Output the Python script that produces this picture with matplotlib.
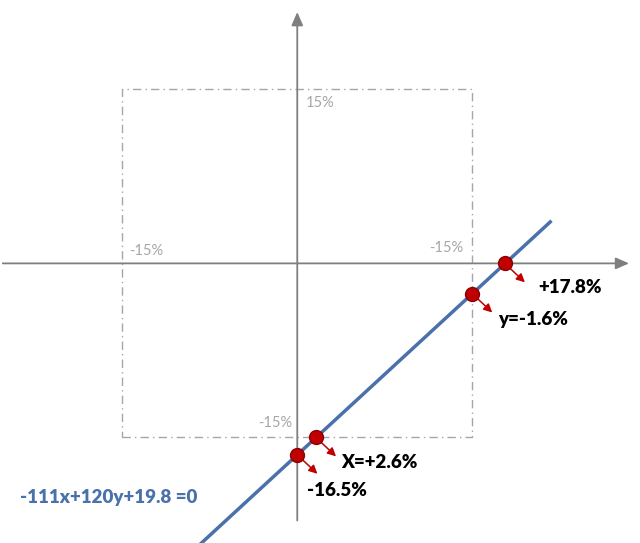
import numpy as np
from matplotlib import pyplot as plt

# line: a*x + b*y + c = 0 (x, y as fractions; plotted in %)
coef_a, coef_b, coef_c = -111, 120, 19.8
box_half = 15
line_x = [-8.6, 21.7]

pt_x = [17.8, 15.0, 1.6, 0.0]
pt_y = [0.0, -2.6, -15.0, -16.5]
pt_labels = ["+17.8%", "y=-1.6%", "X=+2.6%", "-16.5%"]
label_offsets = [(2.9, -2.1), (2.25, -2.2), (2.2, -2.15), (0.86, -3.1)]

box_labels = ["15%", "-15%", "-15%", "-15%"]
box_label_pos = [(0.7, 13.8), (-14.4, 1.1), (11.3, 1.3), (-3.4, -13.8)]

blue = "#4a71ab"
red = "#c00000"
gray = "#7f7f7f"

plt.rcParams["font.family"] = ["Lato", "DejaVu Sans"]

fig = plt.figure(figsize=(6.4, 5.43), dpi=100)
ax = fig.add_axes([0, 0, 1, 1])
ax.set_xlim(-25.5, 29.4)
ax.set_ylim(-24.1, 22.7)
ax.axis("off")

# coordinate axes with arrow heads
ax.annotate("", xy=(28.7, 0), xytext=(-25.5, 0),
            arrowprops=dict(arrowstyle="-|>,head_length=0.8,head_width=0.35",
                            color=gray, lw=1.3))
ax.annotate("", xy=(0, 21.9), xytext=(0, -22.4),
            arrowprops=dict(arrowstyle="-|>,head_length=0.8,head_width=0.35",
                            color=gray, lw=1.3))

# dash-dot box
bx = [-box_half, box_half, box_half, -box_half, -box_half]
by = [-box_half, -box_half, box_half, box_half, -box_half]
ax.plot(bx, by, color="#a6a6a6", lw=1, linestyle=(0, (6, 3, 1, 3)))
for txt, (tx, ty) in zip(box_labels, box_label_pos):
    ax.text(tx, ty, txt, color="#a6a6a6", fontsize=10.5, va="center", ha="left")

# the line
lx = np.array(line_x)
ly = -(coef_a * lx + coef_c * 100) / coef_b
ax.plot(lx, ly, color=blue, lw=2.5, zorder=3)

# points, arrows, labels
for x, y, txt, (ox, oy) in zip(pt_x, pt_y, pt_labels, label_offsets):
    ax.annotate("", xy=(x + 1.9, y - 1.8), xytext=(x, y),
                arrowprops=dict(arrowstyle="-|>,head_length=0.5,head_width=0.25",
                                color=red, lw=1.1), zorder=4)
    ax.plot(x, y, "o", ms=10, color="#c00000", mec="#8b0000", mew=1, zorder=5)
    ax.text(x + ox, y + oy, txt, fontsize=13.5, fontweight="heavy", color="black",
            va="center", ha="left")

ax.text(-23.8, -20.2, f"{coef_a}x+{coef_b}y+{coef_c} =0", fontsize=13.5,
        fontweight="heavy", color=blue, va="center", ha="left")

fig.savefig("out.png", dpi=100)
